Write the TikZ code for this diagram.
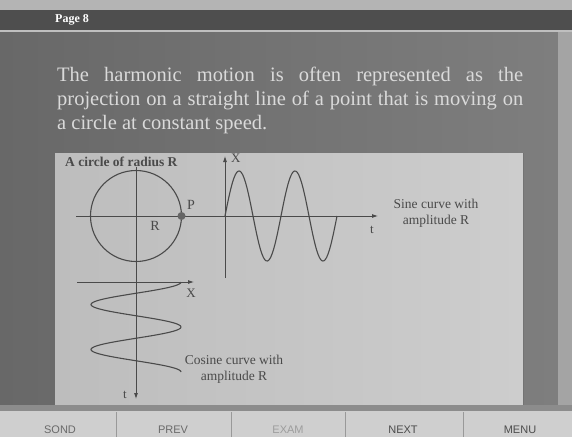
\documentclass[tikz,border=0pt]{standalone}
\usepackage{fontspec}
\setmainfont{Liberation Serif}
\setsansfont{Liberation Sans}
\usetikzlibrary{arrows.meta}
\definecolor{bgmain}{HTML}{686868}
\definecolor{bgtop}{HTML}{B4B4B4}
\definecolor{hdr}{HTML}{4E4E4E}
\definecolor{panelL}{HTML}{BDBDBD}
\definecolor{panelR}{HTML}{CDCDCD}
\definecolor{ink}{HTML}{4A4A4A}
\definecolor{bodytxt}{HTML}{DADADA}
\definecolor{btnbg}{HTML}{CFCFCF}
\definecolor{btntxt}{HTML}{6A6A6A}
\tikzset{
  axis/.style={draw=ink, line width=0.8pt},
  axarrow/.style={axis, -{Latex[length=6pt,width=4pt]}},
  curve/.style={draw=ink, line width=1.1pt},
  lbl/.style={text=ink, font=\fontsize{13}{15}\selectfont, inner sep=0pt},
  small/.style={text=ink, font=\fontsize{13.5}{16.5}\selectfont, inner sep=0pt, align=center},
  bodyline/.style={text=bodytxt, font=\fontsize{20.5}{24}\selectfont, inner sep=0pt, anchor=base west},
  btn/.style={text=btntxt, font=\sffamily\fontsize{11}{13}\selectfont, inner sep=0pt},
}
\begin{document}
\begin{tikzpicture}[x=1pt,y=-1pt]
\useasboundingbox (0,0) rectangle (572,437);
% backgrounds
\fill[bgtop] (0,0) rectangle (572,10);
\shade[left color=bgmain, right color=bgmain!85!white] (0,10) rectangle (572,410);
\fill[bgmain!60!white] (558,32) rectangle (572,410);
\fill[hdr] (0,10) rectangle (572,30);
\draw[white!75!black, line width=1.2pt] (0,31) -- (572,31);
\node[text=white, font=\bfseries\fontsize{12}{14}\selectfont, anchor=west, inner sep=0pt] (page) at (55,20) {Page 8};
% body text
\node[bodyline] (l1) at (57,81) {\makebox[466pt][s]{The harmonic motion is often represented as the}};
\node[bodyline] (l2) at (57,105) {\makebox[466pt][s]{projection on a straight line of a point that is moving on}};
\node[bodyline] (l3) at (57,129) {a circle at constant speed.};
% panel
\shade[left color=panelL, right color=panelR] (55,153) rectangle (523,405);
\draw[black!55, line width=1pt] (55,405) -- (523,405) -- (523,153);
% circle diagram
\coordinate (C) at (136,216);
\node[lbl, font=\bfseries\fontsize{13.5}{15}\selectfont, anchor=west] (title) at (65,162) {A circle of radius R};
\draw[curve] (C) circle[radius=45.5];
\coordinate (hl) at (76,216);
\coordinate (hr) at (378,216);
\draw[axarrow] (hl) -- (hr);
\coordinate (vt) at (136,167);
\coordinate (vb) at (136,399);
\draw[axarrow] (vt) -- (vb);
\node[circle, fill=ink!85, inner sep=0pt, minimum size=8pt] (P) at (181.5,216) {};
\node[lbl, anchor=west, font=\fontsize{14}{15}\selectfont] (Plbl) at (187,205) {P};
\node[lbl, font=\fontsize{14}{15}\selectfont] (Rlbl) at (155,226) {R};
% sine
\coordinate (sb) at (225,278);
\coordinate (st) at (225,156);
\draw[axarrow] (sb) -- (st);
\node[lbl, anchor=west] (Xs) at (231,158) {X};
\node[lbl] (ts) at (372,230) {t};
\draw[curve, domain=0:112, samples=120, smooth] plot ({225+\x},{216-45*sin(\x/56*360)});
\node[small] (sinelbl) at (436,213) {Sine curve with\\amplitude R};
% cosine
\coordinate (cl) at (77,282);
\coordinate (cr) at (194,282);
\draw[axarrow] (cl) -- (cr);
\node[lbl] (Xc) at (191,293) {X};
\node[lbl] (tc) at (125,395) {t};
\draw[curve, domain=0:90, samples=120, smooth] plot ({136+45*cos(\x/45*360)},{282+\x});
\node[small] (coslbl) at (234,369) {Cosine curve with\\amplitude R};
% bottom bar
\fill[black!45] (0,405) rectangle (572,411);
\fill[btnbg] (0,411) rectangle (572,437);
\foreach \sx/\nm in {116/s1,231/s2,345/s3,463/s4} {
  \coordinate (\nm t) at (\sx,412);
  \coordinate (\nm b) at (\sx,437);
  \draw[black!40, line width=0.8pt] (\nm t) -- (\nm b);
}
\node[btn] (b1) at (60,430) {SOND};
\node[btn] (b2) at (173,430) {PREV};
\node[btn, text=btntxt!50!btnbg] (b3) at (288,430) {EXAM};
\node[btn, text=black!70] (b4) at (403,430) {NEXT};
\node[btn, text=black!70] (b5) at (520,430) {MENU};
\end{tikzpicture}
\end{document}
